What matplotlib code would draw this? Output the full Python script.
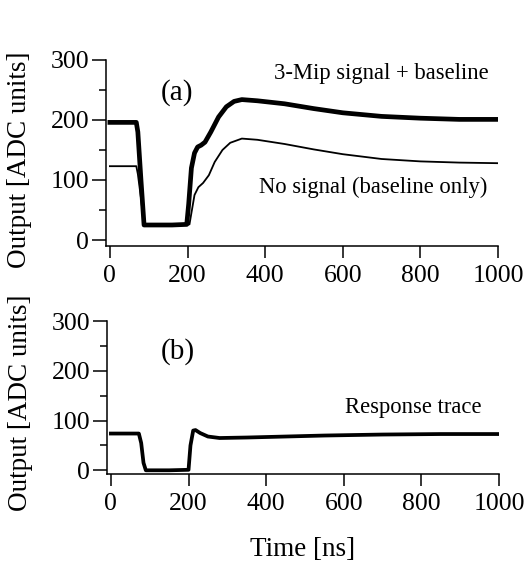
import matplotlib
matplotlib.use("Agg")
import matplotlib.pyplot as plt
from matplotlib.ticker import MultipleLocator

plt.rcParams["font.family"] = ["Liberation Serif", "DejaVu Serif"]

# Panel (a): 3-Mip signal + baseline
MIP_T = [0, 68, 72, 80, 88, 120, 160, 198, 203, 210, 218, 226, 235, 245, 260,
         280, 300, 320, 340, 380, 450, 525, 600, 700, 800, 900, 1000]
MIP_V = [196, 196, 180, 100, 25, 25, 25, 26, 60, 120, 145, 155, 158, 163, 180,
         205, 222, 231, 234, 232, 227, 219, 212, 206, 203, 201, 201]

# Panel (a): no signal (baseline only)
BASE_T = [0, 68, 72, 80, 88, 150, 205, 210, 218, 228, 240, 255, 270, 290, 310,
          340, 380, 450, 525, 600, 700, 800, 900, 1000]
BASE_V = [123, 123, 110, 70, 25, 25, 26, 45, 75, 88, 95, 108, 130, 150, 162,
          169, 167, 160, 151, 143, 135, 131, 129, 128]

# Panel (b): response trace
RESP_T = [0, 72, 78, 84, 90, 150, 200, 205, 212, 218, 230, 250, 280, 350, 450,
          550, 700, 850, 1000]
RESP_V = [74, 74, 55, 15, 0, 0, 1, 50, 80, 81, 75, 68, 65, 66, 68,
          70, 72, 73, 73]

X_TICKS = [0, 200, 400, 600, 800, 1000]
Y_TICKS = [0, 100, 200, 300]

TICK_FS = 18.5
LABEL_FS = 19.5
NOTE_FS = 16.3
PANEL_FS = 21


def style_axis(ax, ybottom):
    ax.set_xlim(-10, 1000)
    ax.set_ylim(ybottom, 300)
    ax.set_xticks(X_TICKS)
    ax.set_yticks(Y_TICKS)
    ax.yaxis.set_minor_locator(MultipleLocator(50))
    ax.spines["top"].set_visible(False)
    ax.spines["right"].set_visible(False)
    for s in ("left", "bottom"):
        ax.spines[s].set_linewidth(1.1)
    ax.tick_params(axis="y", which="major", direction="out", length=10,
                   width=1.1, labelsize=TICK_FS, pad=2)
    ax.tick_params(axis="x", which="major", direction="out", length=8.5,
                   width=1.1, labelsize=TICK_FS, pad=5)
    ax.tick_params(axis="y", which="minor", direction="out", length=5, width=1.1)
    ax.set_ylabel("Output [ADC units]", fontsize=LABEL_FS)
    ax.yaxis.set_label_coords(-0.19, 0.465)


fig = plt.figure(figsize=(5.28, 5.68), dpi=100)
ax1 = fig.add_axes([0.2008, 0.5669, 0.7424, 0.3275])
ax2 = fig.add_axes([0.2027, 0.165, 0.7424, 0.2694])

ax1.plot(BASE_T, BASE_V, color="black", lw=1.3)
ax1.plot(MIP_T, MIP_V, color="black", lw=3.4, solid_joinstyle="round")
style_axis(ax1, -10)
ax1.text(173, 245, "(a)", fontsize=PANEL_FS, ha="center", va="center")
ax1.text(975, 278, "3-Mip signal + baseline", fontsize=NOTE_FS, ha="right", va="center")
ax1.text(973, 88, "No signal (baseline only)", fontsize=NOTE_FS, ha="right", va="center")

ax2.plot(RESP_T, RESP_V, color="black", lw=2.7, solid_joinstyle="round")
style_axis(ax2, -8)
ax2.text(173, 239, "(b)", fontsize=PANEL_FS, ha="center", va="center")
ax2.text(954, 126, "Response trace", fontsize=NOTE_FS, ha="right", va="center")
ax2.set_xlabel("Time [ns]", fontsize=LABEL_FS)
ax2.xaxis.set_label_coords(0.5, -0.41)

fig.savefig("out.png", dpi=100)
